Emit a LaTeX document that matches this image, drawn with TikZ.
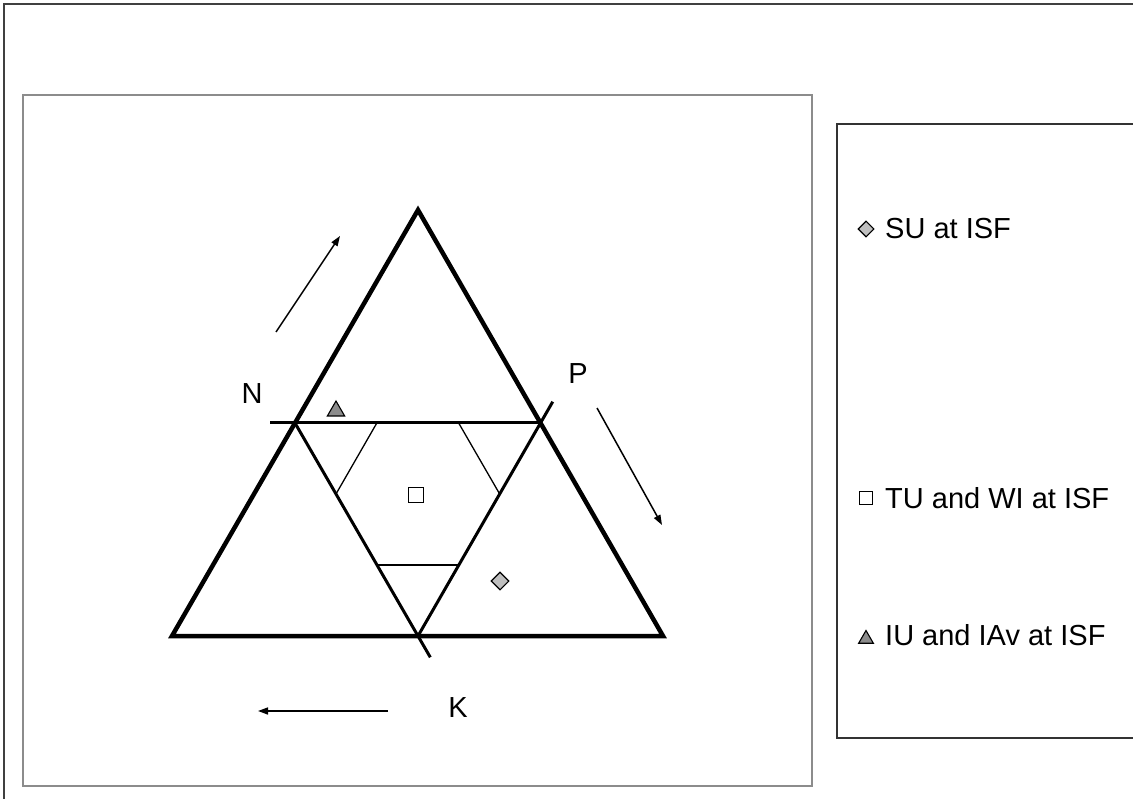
\documentclass[tikz,border=0pt]{standalone}
\usepackage{fontspec}
\setmainfont{Liberation Sans}
\usetikzlibrary{arrows.meta,calc,shapes.geometric}
\begin{document}
\begin{tikzpicture}[x=1pt,y=-1pt,
  frameline/.style={draw=black!75,line width=2pt},
  panelline/.style={draw=black!45,line width=2pt},
  legendline/.style={draw=black!80,line width=1.5pt},
  bigside/.style={line width=4.5pt,line join=miter},
  midside/.style={line width=3pt},
  thinside/.style={line width=1.3pt},
  flow/.style={line width=1.5pt,-{Triangle[length=10pt,width=7pt]}},
  lbl/.style={font=\fontsize{29}{34}\selectfont,inner sep=0pt},
  sqmark/.style={draw,fill=white,line width=1.1pt,minimum size=#1,inner sep=0pt},
  dmmark/.style={diamond,draw,fill=black!25,line width=1.1pt,minimum size=#1,inner sep=0pt},
  trmark/.style={regular polygon,regular polygon sides=3,draw,fill=black!45,line width=1.1pt,minimum size=#1,inner sep=0pt}
]
\useasboundingbox (0,0) rectangle (1133,799);
\clip (0,0) rectangle (1133,799);
% frames
\draw[frameline] (4,810) -- (4,4) -- (1145,4);
\draw[panelline] (23,95) rectangle (812,786);
\draw[legendline] (1145,124) -- (837,124) -- (837,738) -- (1145,738);
% big triangle
\coordinate (A) at (418,210);
\coordinate (B) at (172,636);
\coordinate (C) at (663,636);
\draw[bigside] (A) -- (B) -- (C) -- cycle;
% inner triangle
\coordinate (N1) at (295,423);
\coordinate (P1) at (540.5,423);
\coordinate (K1) at (418,636);
\coordinate (Nend) at ($(P1)!1.1!(N1)$);
\coordinate (Kend) at ($(N1)!1.1!(K1)$);
\coordinate (Pend) at ($(K1)!1.1!(P1)$);
\draw[midside] (Nend) -- (P1);
\draw[midside] (N1) -- (Kend);
\draw[midside] (K1) -- (Pend);
% hexagon cuts
\draw[thinside] ($(N1)!1/3!(P1)$) -- ($(N1)!1/3!(K1)$);
\draw[thinside] ($(P1)!1/3!(N1)$) -- ($(P1)!1/3!(K1)$);
\draw[thinside] ($(K1)!1/3!(N1)$) -- ($(K1)!1/3!(P1)$);
% markers
\node[trmark=20pt] (mtri) at (336,411) {};
\node[sqmark=15pt] (msq) at (416,495) {};
\node[dmmark=18pt] (mdia) at (500,581) {};
% labels
\node[lbl] (labN) at (252,394) {N};
\node[lbl] (labP) at (578,374) {P};
\node[lbl] (labK) at (458,708) {K};
% direction arrows
\coordinate (a1s) at (276,332);
\coordinate (a1e) at (340,236);
\coordinate (a2s) at (597,408);
\coordinate (a2e) at (662,525);
\coordinate (a3s) at (388,711);
\coordinate (a3e) at (258,711);
\draw[flow] (a1s) -- (a1e);
\draw[flow] (a2s) -- (a2e);
\draw[flow] (a3s) -- (a3e);
% legend
\node[dmmark=16pt] (ldia) at (866,229) {};
\node[lbl,anchor=west] (lt1) at (885,229) {SU at ISF};
\node[sqmark=13pt] (lsq) at (866,498) {};
\node[lbl,anchor=west] (lt2) at (885,498) {TU and WI at ISF};
\node[trmark=17pt] (ltri) at (866,639) {};
\node[lbl,anchor=west] (lt3) at (885,635) {IU and IAv at ISF};
\end{tikzpicture}
\end{document}
